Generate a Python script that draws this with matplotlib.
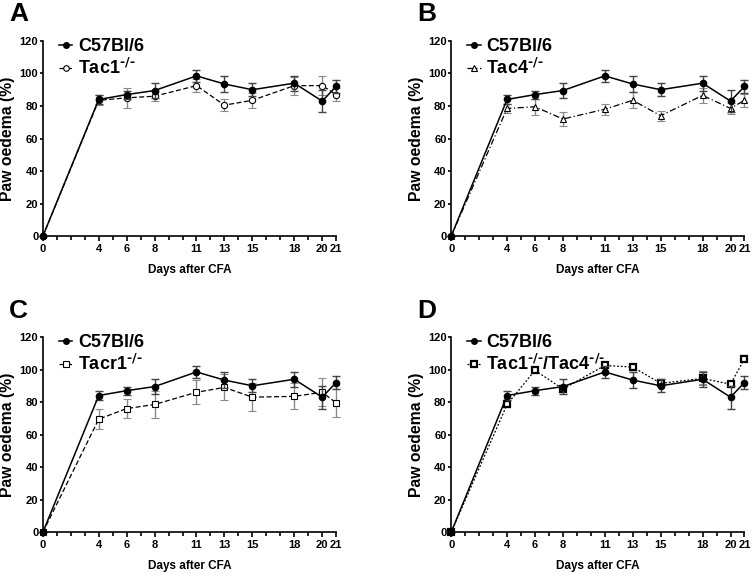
import matplotlib
matplotlib.use("Agg")
import matplotlib.pyplot as plt
from matplotlib.lines import Line2D
from matplotlib.ticker import FixedLocator, MultipleLocator

plt.rcParams['font.family'] = ['Liberation Sans', 'DejaVu Sans']
plt.rcParams['font.weight'] = 'bold'

days = [0, 4, 6, 8, 11, 13, 15, 18, 20, 21]
day_labels = ['0', '4', '6', '8', '11', '13', '15', '18', '20', '21']

# wild type, same in every panel
wt = [0, 84, 87, 89.5, 98.5, 93.5, 90, 94, 83, 92]
wt_err = [0, 2.5, 2.5, 4.5, 3.5, 5, 4, 4.5, 7, 4]

tac1 = [0, 83.5, 85, 86, 92.5, 80.5, 83.5, 92.5, 92.5, 87]
tac1_err = [0, 3, 6, 3, 4, 3.5, 4.5, 5.5, 6, 4]

tac4 = [0, 78.5, 79.5, 72, 78, 83.5, 74, 86.5, 78.5, 83.5]
tac4_err = [0, 3, 5, 4, 3.5, 5, 3, 4.5, 3.5, 4]

tacr1 = [0, 69.5, 76, 78.5, 86, 89, 83, 83.5, 86, 79.5]
tacr1_err = [0, 6, 6, 8, 7.5, 8, 8.5, 8, 8.5, 8.5]

dko = [0, 78.5, 99.5, 88, 102.5, 101.5, 91.5, 94.5, 91, 106.5]
dko_err = [0, 1.5, 1.5, 2, 1.5, 1.5, 1.5, 4, 1.5, 1.5]

sup = r'$^{\text{-/-}}$'
panels = [
    ('A', [0.057, 0.590, 0.390, 0.339], tac1, tac1_err, 'Tac1' + sup, 'o', (0, (4, 2))),
    ('B', [0.600, 0.590, 0.390, 0.339], tac4, tac4_err, 'Tac4' + sup, '^', (0, (5, 2, 1, 2))),
    ('C', [0.057, 0.076, 0.390, 0.339], tacr1, tacr1_err, 'Tacr1' + sup, 's', (0, (4, 2))),
    ('D', [0.600, 0.076, 0.390, 0.339], dko, dko_err, 'Tac1' + sup + '/Tac4' + sup, 's', (0, (1.5, 1.5))),
]

fig = plt.figure(figsize=(7.52, 5.76), dpi=100)

for letter, pos, ko, ko_err, ko_name, mk, ls in panels:
    ax = fig.add_axes(pos)
    ms = 4.5 if mk != 's' else 4.2
    mew = 1.6 if letter == 'D' else 0.8
    # knockout
    ax.errorbar(days, ko, yerr=ko_err, color='black', ecolor='#8a8a8a', elinewidth=1,
                capsize=3, capthick=1, linestyle=ls, linewidth=0.9, marker=mk,
                markersize=ms, markerfacecolor='white', markeredgecolor='black',
                markeredgewidth=mew, clip_on=False, zorder=2)
    # wild type
    ax.errorbar(days, wt, yerr=wt_err, color='black', ecolor='#444444', elinewidth=1,
                capsize=3, capthick=1, linestyle='-', linewidth=1.1, marker='o',
                markersize=4.5, clip_on=False, zorder=3)

    ax.set_xlim(0, 21)
    ax.set_ylim(0, 120)
    ax.spines['top'].set_visible(False)
    ax.spines['right'].set_visible(False)
    ax.spines['left'].set_linewidth(1.2)
    ax.spines['bottom'].set_linewidth(1.2)
    ax.xaxis.set_major_locator(FixedLocator(days))
    ax.set_xticklabels(day_labels)
    ax.xaxis.set_minor_locator(MultipleLocator(1))
    ax.yaxis.set_major_locator(MultipleLocator(20))
    ax.tick_params(axis='x', which='major', length=3.5, width=1.2, labelsize=8, pad=2)
    ax.tick_params(axis='y', which='major', length=2.5, width=1.2, labelsize=8, pad=0.8)
    ax.tick_params(axis='x', which='minor', length=3, width=1.2)
    ax.set_xlabel('Days after CFA', fontsize=8.5, fontweight='bold', labelpad=7)
    ax.set_ylabel('Paw oedema (%)', fontsize=11.3, fontweight='bold', labelpad=3)

    handles = [
        Line2D([], [], color='black', linestyle='-', linewidth=1.1, marker='o', markersize=4),
        Line2D([], [], color='black', linestyle=ls, linewidth=0.9, marker=mk, markersize=ms - 0.5,
               markerfacecolor='white', markeredgewidth=mew),
    ]
    ax.legend(handles, ['C57Bl/6', ko_name], loc='upper left', bbox_to_anchor=(0.03, 1.05),
              frameon=False, prop={'size': 13, 'weight': 'bold'},
              handlelength=0.75, handletextpad=0.3, labelspacing=0.15, borderaxespad=0)

    fig.text(pos[0] - 0.045, pos[1] + pos[3] + 0.025, letter, fontsize=19,
             fontweight='bold', va='bottom', ha='left')

fig.savefig('out.png', dpi=100)
